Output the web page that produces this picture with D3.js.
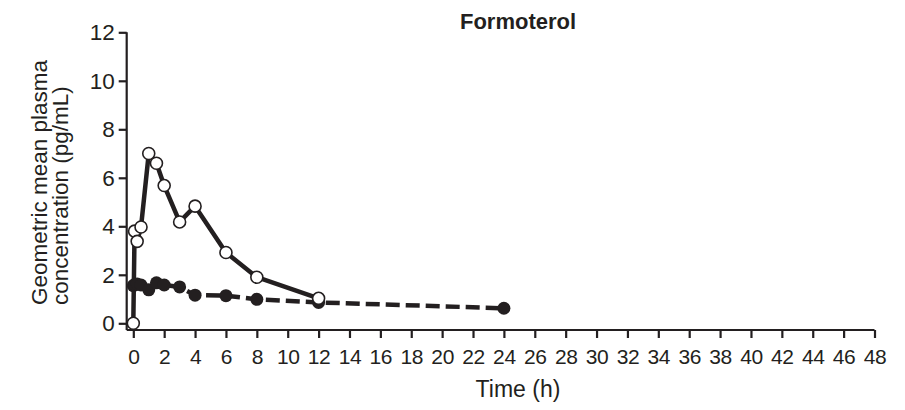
<!DOCTYPE html>
<html>
<head>
<meta charset="utf-8">
<script src="https://cdn.jsdelivr.net/npm/d3@7"></script>
<style>
  body { margin: 0; background: #fff; }
  text { font-family: "Liberation Sans", Arial, sans-serif; fill: #231f20; }
</style>
</head>
<body>
<div id="chart"></div>
<script>
// time points (h) and geometric mean concentrations (pg/mL)
var openTimes = [0, 0.083, 0.25, 0.5, 1, 1.5, 2, 3, 4, 6, 8, 12];
var openValues = [0, 3.8, 3.38, 3.97, 7.0, 6.6, 5.68, 4.18, 4.83, 2.92, 1.9, 1.03];
var filledTimes = [0, 0.083, 0.25, 0.5, 1, 1.5, 2, 3, 4, 6, 8, 12, 24];
var filledValues = [1.55, 1.6, 1.62, 1.58, 1.38, 1.67, 1.58, 1.5, 1.16, 1.14, 0.99, 0.86, 0.62];
var xTicks = d3.range(0, 49, 2);
var yTicks = [0, 2, 4, 6, 8, 10, 12];

var width = 905, height = 410;
var svg = d3.select("#chart").append("svg")
    .attr("width", width)
    .attr("height", height);

var x = d3.scaleLinear().domain([0, 48]).range([133.3, 874.5]);
var y = d3.scaleLinear().domain([0, 12]).range([323.3, 32.3]);

// y axis
var yAxis = svg.append("g")
    .attr("transform", "translate(126.7,0)")
    .call(d3.axisLeft(y).tickValues(yTicks).tickSize(8).tickPadding(4));
yAxis.select(".domain").attr("d", "M0," + y(12) + "V330");

// x axis
var xAxis = svg.append("g")
    .attr("transform", "translate(0,330)")
    .call(d3.axisBottom(x).tickValues(xTicks).tickSize(8).tickPadding(11));
xAxis.select(".domain").attr("d", "M126.7,0H" + x(48));

svg.selectAll(".domain, .tick line")
    .attr("stroke", "#231f20").attr("stroke-width", 2.2);
svg.selectAll(".tick text")
    .attr("fill", "#231f20")
    .style("font-family", "'Liberation Sans', Arial, sans-serif");
xAxis.selectAll(".tick text").attr("font-size", 21).attr("letter-spacing", -0.4);
yAxis.selectAll(".tick text").attr("font-size", 22.5);

// lines
var line = d3.line()
    .x(function(d) { return x(d[0]); })
    .y(function(d) { return y(d[1]); });

var filled = filledTimes.map(function(t, i) { return [t, filledValues[i]]; });
var open = openTimes.map(function(t, i) { return [t, openValues[i]]; });

svg.append("path")
    .datum(filled)
    .attr("fill", "none")
    .attr("stroke", "#231f20")
    .attr("stroke-width", 4.5)
    .attr("stroke-dasharray", "14,6")
    .attr("d", line);

svg.append("path")
    .datum(open)
    .attr("fill", "none")
    .attr("stroke", "#231f20")
    .attr("stroke-width", 4.5)
    .attr("stroke-linejoin", "round")
    .attr("d", line);

svg.selectAll(".filled")
    .data(filled)
  .enter().append("circle")
    .attr("cx", function(d) { return x(d[0]); })
    .attr("cy", function(d) { return y(d[1]); })
    .attr("r", 6.5)
    .attr("fill", "#231f20");

svg.selectAll(".open")
    .data(open)
  .enter().append("circle")
    .attr("cx", function(d) { return x(d[0]); })
    .attr("cy", function(d) { return y(d[1]); })
    .attr("r", 6)
    .attr("fill", "#fff")
    .attr("stroke", "#231f20")
    .attr("stroke-width", 1.6);

// titles
svg.append("text")
    .attr("x", 518).attr("y", 29)
    .attr("text-anchor", "middle")
    .attr("font-size", 22).attr("font-weight", "bold")
    .text("Formoterol");

svg.append("text")
    .attr("x", 518).attr("y", 397)
    .attr("text-anchor", "middle")
    .attr("font-size", 23)
    .text("Time (h)");

var yTitle = svg.append("text")
    .attr("transform", "translate(0,305) rotate(-90)")
    .attr("font-size", 22.5);
yTitle.append("tspan").attr("x", 0).attr("y", 47).text("Geometric mean plasma");
yTitle.append("tspan").attr("x", 0).attr("y", 68).text("concentration (pg/mL)");
</script>
</body>
</html>
